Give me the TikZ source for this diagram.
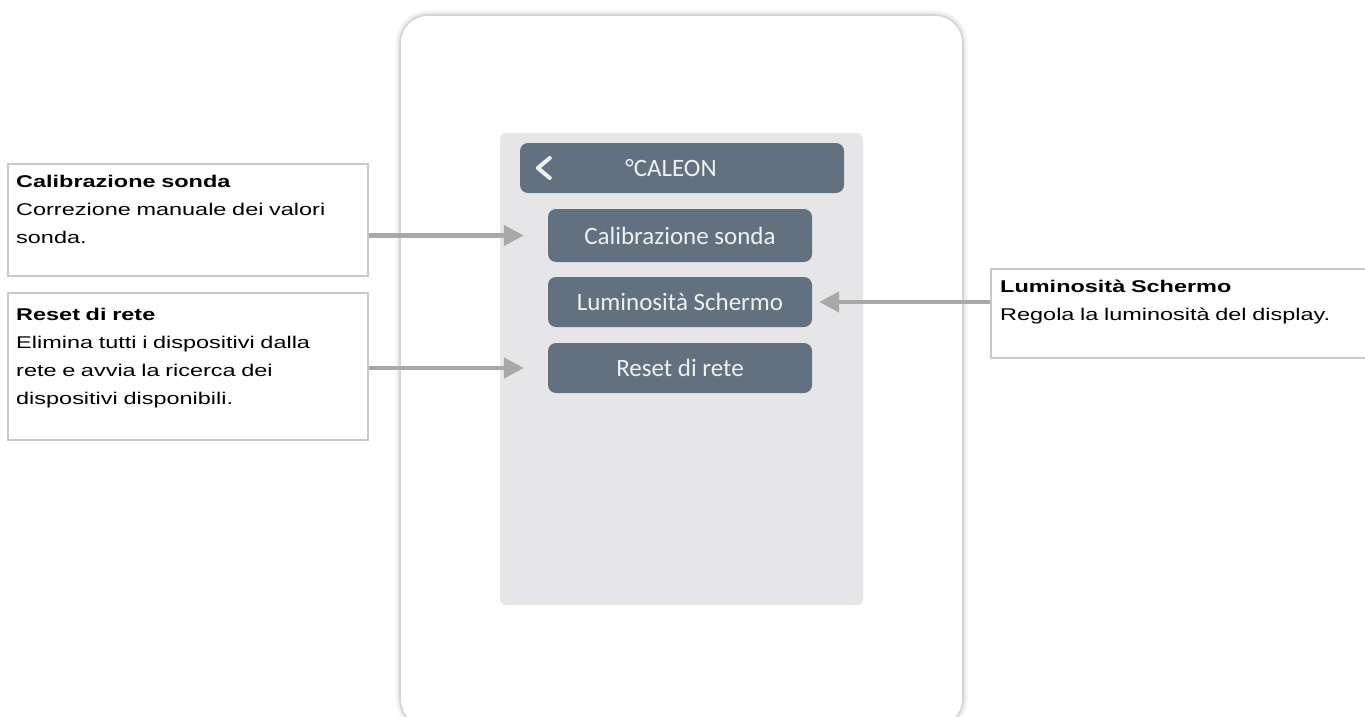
\documentclass[tikz,border=0pt]{standalone}
\usepackage{fontspec}
\usetikzlibrary{arrows.meta,calc}
\newfontfamily\lblfont[FakeStretch=1.38]{Liberation Sans}
\newfontfamily\uifont{Carlito}
\definecolor{slate}{HTML}{627080}
\definecolor{screengray}{HTML}{E6E6E8}
\definecolor{arrowgray}{HTML}{A8A8A8}
\definecolor{boxgray}{HTML}{C8C8C8}
\definecolor{uitext}{HTML}{EEF0F2}
\tikzset{
  infobox/.style={draw=boxgray, line width=1.8pt, fill=white, inner sep=0pt},
  infotext/.style={anchor=base west, inner sep=0pt, text width=345pt, align=left,
    font=\lblfont\fontsize{17}{28}\selectfont},
  uibtn/.style={fill=slate, rounded corners=8pt, inner sep=0pt, minimum width=264pt},
  uilabel/.style={text=uitext, font=\uifont\fontsize{25}{28}\selectfont, inner sep=0pt},
  callout/.style={draw=arrowgray, line width=4.5pt, -{Triangle[length=20pt,width=20pt]}},
}
\begin{document}
\begin{tikzpicture}[x=1pt,y=-1pt]
\useasboundingbox (0,0) rectangle (1365,717);
\clip (0,0) rectangle (1365,717);
% phone frame with soft shadow
\node (phoneshadowa) [draw=black!4, line width=9pt, rounded corners=28pt, minimum width=563pt, minimum height=712pt, inner sep=0pt] at (681.5,371) {};
\node (phoneshadowb) [draw=black!8, line width=5pt, rounded corners=28pt, minimum width=563pt, minimum height=712pt, inner sep=0pt] at (681.5,371) {};
\node (phone) [draw=black!17, fill=white, line width=1.6pt, rounded corners=28pt, minimum width=563pt, minimum height=712pt, inner sep=0pt] at (681.5,371) {};
% screen
\node (screen) [fill=screengray, rounded corners=6pt, minimum width=363pt, minimum height=472pt, inner sep=0pt] at (681.5,369) {};
% header
\node (header) [uibtn, minimum width=324pt, minimum height=50pt] at (682,168) {};
\node (headertext) [uilabel] at (671,168) {°CALEON};
\draw[uitext, line width=4pt, line cap=round, line join=round]
  ($(header.west)+(30,-10)$) -- ($(header.west)+(18,0)$) -- ($(header.west)+(30,10)$);
% buttons
\node (btn1) [uibtn, minimum height=53pt] at (680,235.5) {};
\node (btn1text) [uilabel] at (btn1) {Calibrazione sonda};
\node (btn2) [uibtn, minimum height=50pt] at (680,302) {};
\node (btn2text) [uilabel] at (btn2) {Luminosità Schermo};
\node (btn3) [uibtn, minimum height=50pt] at (680,368) {};
\node (btn3text) [uilabel] at (btn3) {Reset di rete};
% info boxes
\node (box1) [infobox, minimum width=360pt, minimum height=112pt] at (188,220) {};
\node (box1text) [infotext] at (16,187) {\textbf{Calibrazione sonda}\\Correzione manuale dei valori\\sonda.};
\node (box2) [infobox, minimum width=360pt, minimum height=147pt] at (188,366.5) {};
\node (box2text) [infotext] at (16,320) {\textbf{Reset di rete}\\Elimina tutti i dispositivi dalla\\rete e avvia la ricerca dei\\dispositivi disponibili.};
\node (box3) [infobox, minimum width=390pt, minimum height=89pt] at (1186,313.5) {};
\node (box3text) [infotext] at (1000,292) {\textbf{Luminosità Schermo}\\Regola la luminosità del display.};
% callout arrows
\draw[callout, shorten >=24pt] (box1.east |- btn1.west) -- (btn1.west);
\draw[callout, shorten >=24pt] (box2.east |- btn3.west) -- (btn3.west);
\draw[callout, shorten >=7pt] (box3.west |- btn2.east) -- (btn2.east);
\end{tikzpicture}
\end{document}
